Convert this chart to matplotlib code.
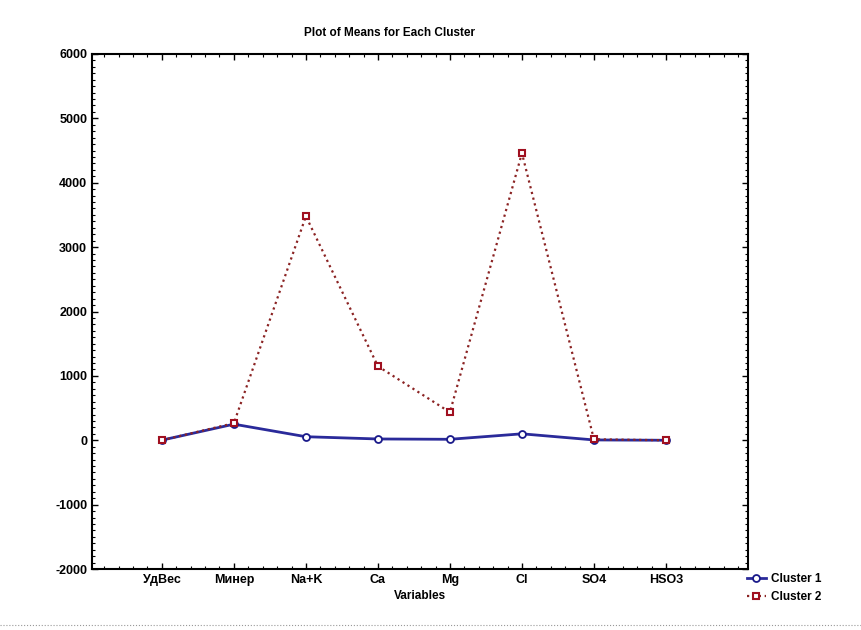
import matplotlib
matplotlib.use("Agg")
import matplotlib.pyplot as plt
from matplotlib.ticker import MultipleLocator
from matplotlib.lines import Line2D

categories = ["УдВес", "Минер", "Na+K", "Ca", "Mg", "Cl", "SO4", "HSO3"]
cluster1 = [2, 250, 55, 20, 15, 100, 5, 0]
cluster2 = [0, 265, 3480, 1150, 435, 4460, 15, 0]
yticks = [-2000, -1000, 0, 1000, 2000, 3000, 4000, 5000, 6000]

plt.rcParams['font.family'] = ['Liberation Sans', 'DejaVu Sans']

fig = plt.figure(figsize=(8.61, 6.3), dpi=100)
ax = fig.add_axes([0.1069, 0.0968, 0.7619, 0.8175])

x = list(range(len(categories)))
ax.plot(x, cluster1, color='#2a2a9a', lw=2.0, ls='-', marker='o', ms=5,
        mfc='white', mec='#1a1a8a', mew=1.3, label='Cluster 1', zorder=3)
ax.plot(x, cluster2, color='#8b2323', lw=1.6, ls=':', marker='s', ms=5,
        mfc='white', mec='#a01020', mew=1.5, label='Cluster 2', zorder=4)

ax.set_xlim(-0.97, 8.14)
ax.set_ylim(-2000, 6000)
ax.set_xticks(x)
ax.set_xticklabels(categories)
ax.set_yticks(yticks)
ax.set_yticklabels([str(v) for v in yticks])
ax.xaxis.set_minor_locator(MultipleLocator(0.2))
ax.yaxis.set_minor_locator(MultipleLocator(100))
ax.tick_params(axis='both', which='both', direction='in', top=True, right=True,
               labelsize=9)
ax.tick_params(which='major', length=4, width=1)
ax.tick_params(which='minor', length=2, width=0.8)
for lab in ax.get_xticklabels() + ax.get_yticklabels():
    lab.set_fontweight('bold')
for sp in ax.spines.values():
    sp.set_linewidth(1.5)

ax.set_xlabel("Variables", fontsize=8.5, fontweight='bold', labelpad=3)
fig.text(0.452, 0.948, "Plot of Means for Each Cluster", fontsize=8.5,
         fontweight='bold', ha='center', va='center')

leg = fig.legend(loc='upper left', bbox_to_anchor=(0.862, 0.098), frameon=False,
                 fontsize=8.5, handlelength=1.6, handletextpad=0.4,
                 labelspacing=0.55, borderaxespad=0)
for t in leg.get_texts():
    t.set_fontweight('bold')

fig.add_artist(Line2D([0, 1], [0.008, 0.008], transform=fig.transFigure,
                      color='#999999', ls=':', lw=0.8))

fig.savefig("out.png", dpi=100)
